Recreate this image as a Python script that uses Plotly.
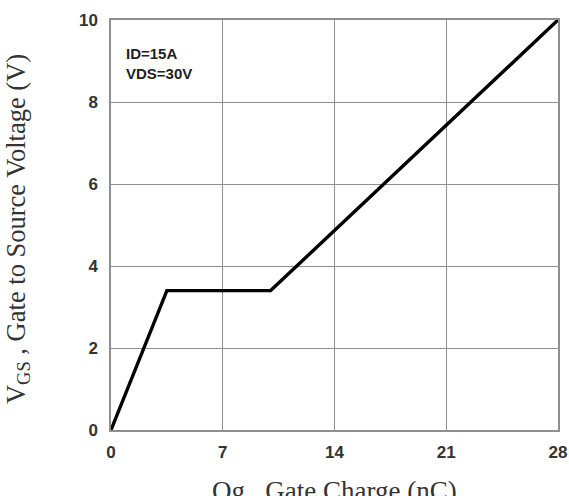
import plotly.graph_objects as go

# Gate charge characteristic (ID=15A, VDS=30V)
qg_nc = [0, 3.5, 10.0, 28.0]
vgs_v = [0, 3.4, 3.4, 10.0]

x_ticks = [0, 7, 14, 21, 28]
y_ticks = [0, 2, 4, 6, 8, 10]

grid_color = "#8f8f8f"
tick_font = dict(family="Liberation Sans, Arial, sans-serif", size=17, color="#333333")

fig = go.Figure()
fig.add_trace(go.Scatter(
    x=qg_nc, y=vgs_v, mode="lines",
    line=dict(color="#000000", width=3.4),
    showlegend=False, hoverinfo="skip",
))

fig.update_xaxes(
    range=[0, 28], tickvals=x_ticks, ticktext=[f"<b>{t}</b>" for t in x_ticks],
    showgrid=True, gridcolor=grid_color, gridwidth=1,
    showline=True, linecolor=grid_color, linewidth=1.5, mirror=True,
    zeroline=False, ticks="", ticklen=0, tickfont=tick_font,
    automargin=False, ticklabelstandoff=6,
)
fig.update_yaxes(
    range=[0, 10], tickvals=y_ticks, ticktext=[f"<b>{t}</b>" for t in y_ticks],
    showgrid=True, gridcolor=grid_color, gridwidth=1,
    showline=True, linecolor=grid_color, linewidth=1.5, mirror=True,
    zeroline=False, ticks="", ticklen=0, tickfont=tick_font,
    automargin=False, ticklabelstandoff=8,
)

serif = dict(family="Liberation Serif, Times New Roman, serif", size=26.5, color="#333333")

fig.add_annotation(
    text="V<sub>GS</sub> , Gate to Source Voltage (V)",
    xref="paper", yref="paper", x=0, y=0.49, xanchor="center", yanchor="middle",
    xshift=-93, textangle=-90, showarrow=False, font=serif,
)
fig.add_annotation(
    text="Qg , Gate Charge (nC)",
    xref="paper", yref="paper", x=0.5, y=0, xanchor="center", yanchor="top",
    yshift=-44, showarrow=False, font=dict(serif, size=27),
)
fig.add_annotation(
    text="<b>ID=15A</b><br><b>VDS=30V</b>",
    xref="paper", yref="paper", x=0.03, y=0.945, xanchor="left", yanchor="top",
    align="left", showarrow=False,
    font=dict(family="Liberation Sans, Arial, sans-serif", size=15, color="#222222"),
)

fig.update_layout(
    width=569, height=496,
    margin=dict(l=111, r=11, t=20, b=66),
    paper_bgcolor="white", plot_bgcolor="white",
)

fig.write_html("out.html")
